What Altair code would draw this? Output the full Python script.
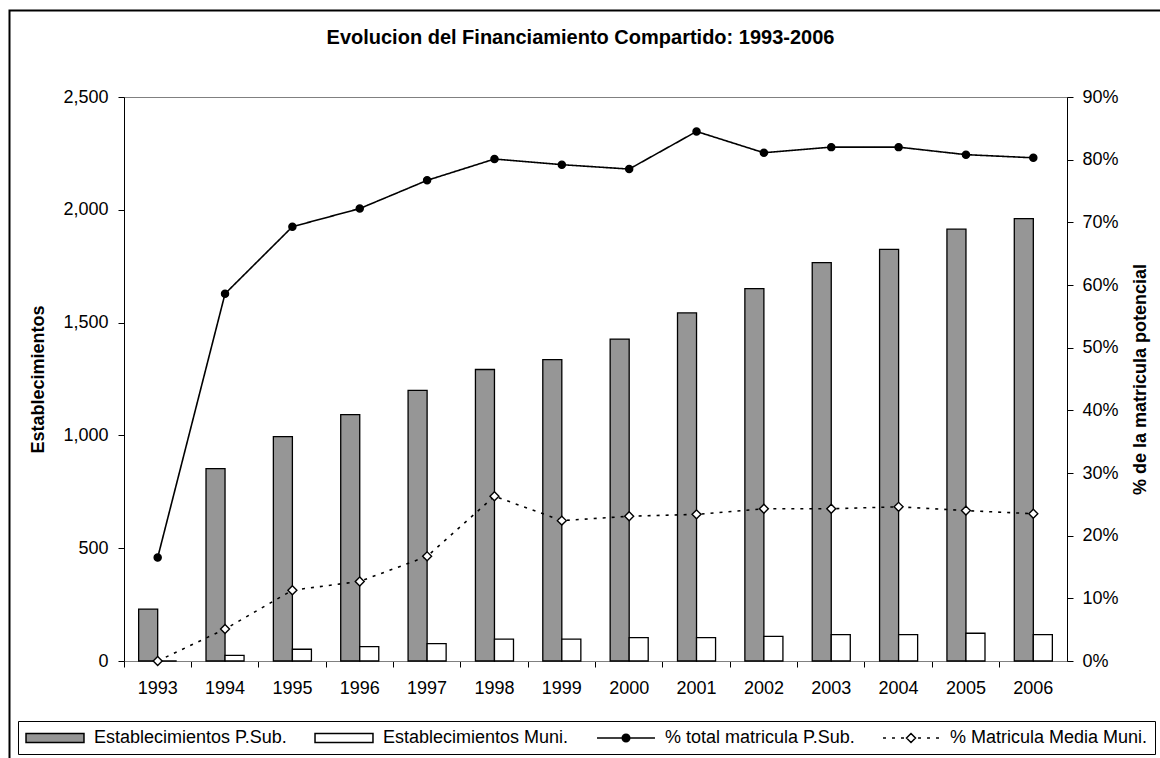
import altair as alt
import pandas as pd

# Años del periodo
anios = [str(a) for a in range(1993, 2007)]

# Número de establecimientos con financiamiento compartido (eje izquierdo)
est_psub = [230, 853, 995, 1092, 1200, 1292, 1336, 1427, 1543, 1651, 1766, 1825, 1914, 1961]
est_muni = [0, 25, 52, 64, 77, 97, 97, 104, 104, 109, 117, 117, 123, 117]

# Porcentaje de la matrícula potencial (eje derecho)
pct_psub = [16.5, 58.6, 69.3, 72.2, 76.7, 80.1, 79.2, 78.5, 84.5, 81.1, 82.0, 82.0, 80.8, 80.3]
pct_muni = [0.0, 5.1, 11.3, 12.7, 16.7, 26.3, 22.4, 23.1, 23.4, 24.3, 24.3, 24.6, 24.0, 23.5]

S_EST_PSUB = "Establecimientos P.Sub."
S_EST_MUNI = "Establecimientos Muni."
S_PCT_PSUB = "% total matricula P.Sub."
S_PCT_MUNI = "% Matricula Media Muni."
series = [S_EST_PSUB, S_EST_MUNI, S_PCT_PSUB, S_PCT_MUNI]

FONT = "Liberation Sans"
W, H = 943, 564

bars_df = pd.DataFrame({
    "anio": anios * 2,
    "serie": [S_EST_PSUB] * len(anios) + [S_EST_MUNI] * len(anios),
    "valor": est_psub + est_muni,
})
lines_df = pd.DataFrame({
    "anio": anios * 2,
    "serie": [S_PCT_PSUB] * len(anios) + [S_PCT_MUNI] * len(anios),
    "pct": [v / 100 for v in pct_psub + pct_muni],
})

# Legend symbols (unit = 9 px): wide boxes for the bars, line + marker for the series
RECT = "M-3.22,-0.5H3.22V0.5H-3.22Z"
SOLID = ("M-3.22,0H3.22M-0.42,0A0.42,0.42,0,1,0,0.42,0"
         "A0.42,0.42,0,1,0,-0.42,0Z")
DOTTED = ("M-3.11,0H-2.78M-2.11,0H-1.78M-1.11,0H-0.78"
          "M0.78,0H1.11M1.78,0H2.11M2.78,0H3.11"
          "M0,-0.5L0.5,0L0,0.5L-0.5,0Z")
sym_expr = (
    f"datum.value == '{S_PCT_PSUB}' ? '{SOLID}' : "
    f"datum.value == '{S_PCT_MUNI}' ? '{DOTTED}' : '{RECT}'"
)

legend = alt.Legend(
    title=None,
    orient="none",
    legendX=-106,
    legendY=624,
    direction="horizontal",
    symbolType={"expr": sym_expr},
    symbolSize=324,
    symbolOffset=20,
    symbolStrokeColor="black",
    symbolStrokeWidth=1.5,
    symbolOpacity=1,
    labelFont=FONT,
    labelFontSize=18,
    labelColor="black",
    labelOffset=29,
    labelLimit=400,
    columnPadding=25,
    padding=7,
    strokeColor="black",
    fillColor="white",
)

fill_scale = alt.Scale(domain=series, range=["#969696", "#ffffff", "#000000", "#ffffff"])

x_enc = alt.X(
    "anio:O",
    sort=anios,
    scale=alt.Scale(paddingInner=0, paddingOuter=0),
    axis=alt.Axis(
        title=None, labelAngle=0, bandPosition=0, tickSize=6,
        labelPadding=12, domainColor="#808080", tickColor="black",
    ),
)

bars = alt.Chart(bars_df).mark_bar(stroke="black", strokeWidth=1.3).encode(
    x=x_enc,
    xOffset=alt.XOffset(
        "serie:N",
        sort=[S_EST_PSUB, S_EST_MUNI],
        scale=alt.Scale(domain=[S_EST_PSUB, S_EST_MUNI], paddingInner=0, paddingOuter=0.77),
    ),
    y=alt.Y(
        "valor:Q",
        scale=alt.Scale(domain=[0, 2500], nice=False),
        axis=alt.Axis(
            values=[0, 500, 1000, 1500, 2000, 2500], format=",.0f",
            title="Establecimientos", titleAngle=270, titleBaseline="middle",
            titleX=-86, titleY=H / 2, tickSize=6, labelPadding=10,
            domainColor="black", tickColor="black", grid=False,
        ),
    ),
    fill=alt.Fill("serie:N", scale=fill_scale, legend=legend),
)

y_pct = alt.Y(
    "pct:Q",
    scale=alt.Scale(domain=[0, 0.9], nice=False),
    axis=alt.Axis(
        orient="right", values=[i / 10 for i in range(10)], format=".0%",
        title="% de la matricula potencial", titleAngle=270, titleBaseline="middle",
        titleX=73, titleY=H / 2, tickSize=6, labelPadding=9,
        domainColor="black", tickColor="black", grid=False,
    ),
)

lines = alt.Chart(lines_df).mark_line(color="black", strokeWidth=1.6).encode(
    x=x_enc,
    y=y_pct,
    detail="serie:N",
    strokeDash=alt.StrokeDash(
        "serie:N",
        scale=alt.Scale(domain=[S_PCT_PSUB, S_PCT_MUNI], range=[[1, 0], [3, 6]]),
        legend=None,
    ),
)

points = alt.Chart(lines_df).mark_point(
    filled=True, stroke="black", strokeWidth=1.4, opacity=1
).encode(
    x=x_enc,
    y=y_pct,
    shape=alt.Shape(
        "serie:N",
        scale=alt.Scale(domain=[S_PCT_PSUB, S_PCT_MUNI], range=["circle", "diamond"]),
        legend=None,
    ),
    size=alt.Size(
        "serie:N",
        scale=alt.Scale(domain=[S_PCT_PSUB, S_PCT_MUNI], range=[50, 80]),
        legend=None,
    ),
    fill=alt.Fill("serie:N", scale=fill_scale, legend=legend),
)

# Outer chart frame
frame = alt.Chart(pd.DataFrame({"k": [0]})).mark_rect(
    fillOpacity=0, stroke="black", strokeWidth=2
).encode(
    x=alt.value(-114.5), x2=alt.value(1300),
    y=alt.value(-86.5), y2=alt.value(900),
)

chart = alt.layer(
    frame,
    bars,
    alt.layer(lines, points),
).resolve_scale(
    y="independent"
).properties(
    width=W,
    height=H,
    autosize="none",
    padding={"left": 124, "top": 97, "right": 93, "bottom": 97},
    background="white",
    title=alt.TitleParams(
        "Evolucion del Financiamiento Compartido: 1993-2006",
        font=FONT, fontSize=20, fontWeight="bold", color="black",
        anchor="middle", dx=-15, offset=-38,
    ),
).configure_view(
    stroke="#808080", strokeWidth=1
).configure_axis(
    labelFont=FONT, labelFontSize=18, labelColor="black",
    titleFont=FONT, titleFontSize=18, titleFontWeight="bold", titleColor="black",
)

chart.save("out.html", embed_options={"renderer": "svg", "actions": False})
